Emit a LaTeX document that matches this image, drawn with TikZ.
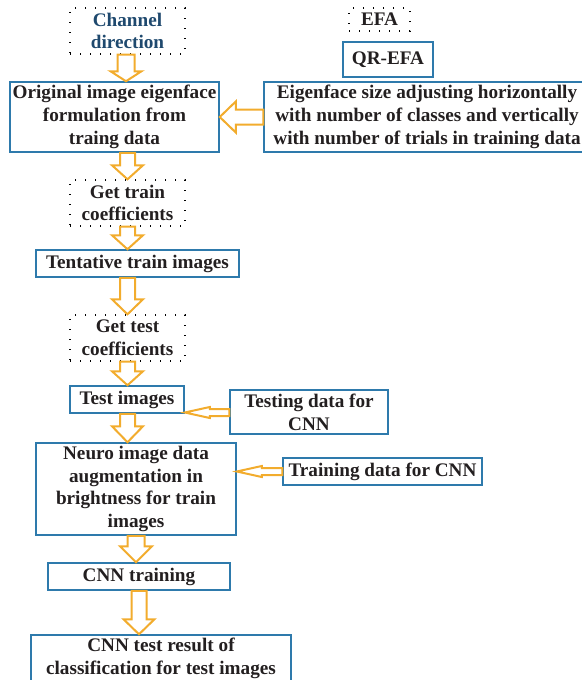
\documentclass[tikz,border=0pt]{standalone}
\usepackage{fontspec}
\setmainfont{Liberation Serif}
\usetikzlibrary{calc}
\definecolor{boxblue}{RGB}{46,122,172}
\definecolor{arroworange}{RGB}{242,172,45}
\definecolor{titleblue}{RGB}{31,73,110}
\definecolor{textdark}{RGB}{35,31,32}

% downward block arrow from node #2 to node #3 at x=#1 (shaft half width #4, head half width #5, head length #6)
\newcommand\blkdown[6]{%
  \draw[blk] let \p1=(#2.south), \p2=(#3.north) in
    (#1pt-#4pt,\y1) -- (#1pt-#4pt,\y2+#6pt) -- (#1pt-#5pt,\y2+#6pt) -- (#1pt,\y2)
    -- (#1pt+#5pt,\y2+#6pt) -- (#1pt+#4pt,\y2+#6pt) -- (#1pt+#4pt,\y1) -- cycle;}
% leftward block arrow from node #2 to node #3 at y=#1
\newcommand\blkleft[6]{%
  \draw[blk] let \p1=(#2.west), \p2=(#3.east) in
    (\x1,-#1pt+#4pt) -- (\x2+#6pt,-#1pt+#4pt) -- (\x2+#6pt,-#1pt+#5pt) -- (\x2,-#1pt)
    -- (\x2+#6pt,-#1pt-#5pt) -- (\x2+#6pt,-#1pt-#4pt) -- (\x1,-#1pt-#4pt) -- cycle;}

\begin{document}
\begin{tikzpicture}[x=1pt,y=-1pt,
  every node/.style={font=\bfseries\fontsize{19.2}{22.8}\selectfont, text=textdark,
    align=center, inner sep=0pt},
  solidbox/.style={draw=boxblue, line width=1.5pt},
  dotbox/.style={draw=black, line width=1.4pt, line cap=butt, dash pattern=on 1.4pt off 8.6pt},
  blk/.style={draw=arroworange, fill=white, line width=2pt, line join=miter}]
\useasboundingbox (0,0) rectangle (581,680);

% top row
\node[dotbox, minimum width=115pt, minimum height=46pt, text=titleblue] (chan) at (127.5,31) {Channel\\direction};
\node[dotbox, minimum width=61pt, minimum height=23pt] (efa) at (379.5,19.5) {EFA};
\node[solidbox, minimum width=90pt, minimum height=35pt] (qr) at (388,59.5) {QR-EFA};

\node[solidbox, minimum width=209pt, minimum height=70pt] (orig) at (114.5,117)
  {Original image eigenface\\formulation from\\traing data};
\node[solidbox, minimum width=326pt, minimum height=70pt] (eig) at (427,117)
  {Eigenface size adjusting horizontally\\with number of classes and vertically\\with number of trials in training data};

% main column
\node[dotbox, minimum width=115pt, minimum height=46pt] (train) at (127.5,203) {Get train\\coefficients};
\node[solidbox, minimum width=203pt, minimum height=27pt] (tent) at (137.5,263.5) {Tentative train images};
\node[dotbox, minimum width=115pt, minimum height=46pt] (gtest) at (127.5,338) {Get test\\coefficients};
\node[solidbox, minimum width=114pt, minimum height=27pt] (timg) at (127,399.5) {Test images};
\node[solidbox, minimum width=158pt, minimum height=44pt] (tdata) at (309,412) {Testing data for\\CNN};
\node[solidbox, minimum width=200pt, minimum height=92pt] (neuro) at (136,489)
  {Neuro image data\\augmentation in\\brightness for train\\images};
\node[solidbox, minimum width=199pt, minimum height=27pt] (trdata) at (382.5,471.5) {Training data for CNN};
\node[solidbox, minimum width=182pt, minimum height=27pt] (cnn) at (139,576.5) {CNN training};
\node[solidbox, minimum width=260pt, minimum height=46pt] (res) at (161,658)
  {CNN test result of\\classification for test images};

% block arrows
\blkdown{126}{chan}{orig}{8.5}{15.5}{10}
\blkdown{127.5}{orig}{train}{7.5}{15.5}{14}
\blkdown{127.5}{train}{tent}{7.5}{15.5}{14}
\blkdown{127.5}{tent}{gtest}{7.5}{15.5}{15}
\blkdown{127.5}{gtest}{timg}{7.5}{15.5}{14}
\blkdown{127.5}{timg}{neuro}{7.5}{15.5}{16}
\blkdown{136}{neuro}{cnn}{8.5}{16}{16}
\blkdown{139}{cnn}{res}{7.5}{15.5}{15}

\blkleft{117}{eig}{orig}{7.5}{15.5}{16}
\blkleft{412.5}{tdata}{timg}{3.5}{5.5}{25}
\blkleft{471.5}{trdata}{neuro}{3.5}{5.5}{25}
\end{tikzpicture}
\end{document}
